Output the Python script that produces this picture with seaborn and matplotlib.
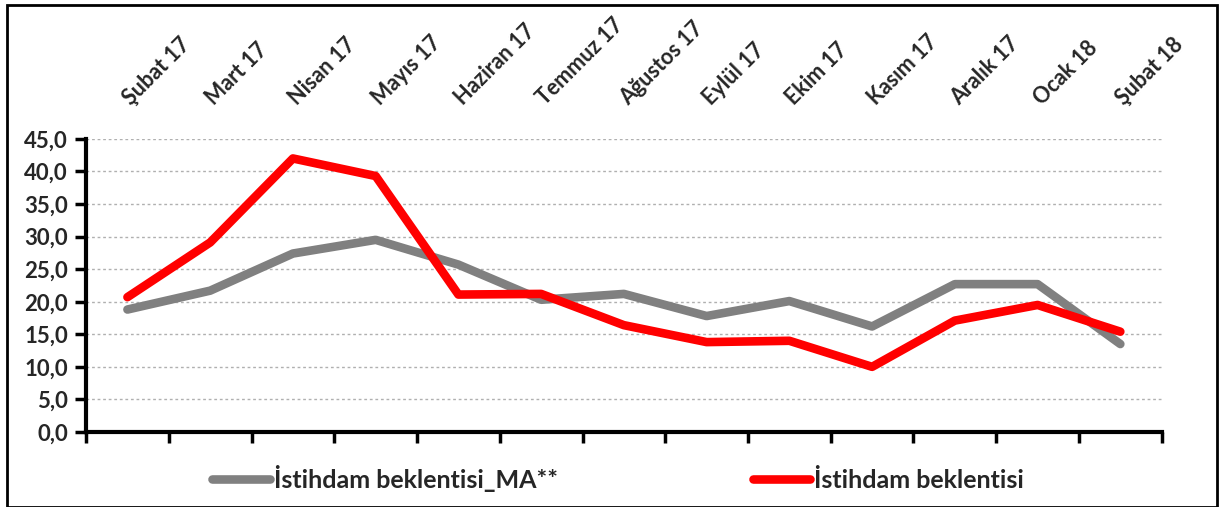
import pandas as pd
import numpy as np
import seaborn as sns
import matplotlib.pyplot as plt
from matplotlib.patches import Rectangle
from matplotlib.transforms import ScaledTranslation

# Data
months = ['Şubat 17', 'Mart 17', 'Nisan 17', 'Mayıs 17', 'Haziran 17', 'Temmuz 17',
          'Ağustos 17', 'Eylül 17', 'Ekim 17', 'Kasım 17', 'Aralık 17', 'Ocak 18', 'Şubat 18']
ma_values = [18.8, 21.7, 27.4, 29.5, 25.7, 20.3, 21.2, 17.8, 20.1, 16.2, 22.7, 22.7, 13.5]
raw_values = [20.7, 29.1, 42.0, 39.3, 21.1, 21.2, 16.4, 13.8, 14.0, 10.0, 17.1, 19.5, 15.4]
series_names = ['İstihdam beklentisi_MA**', 'İstihdam beklentisi']
y_ticks = [0, 5, 10, 15, 20, 25, 30, 35, 40, 45]

df = pd.DataFrame({
    'idx': list(range(len(months))) * 2,
    'value': ma_values + raw_values,
    'series': [series_names[0]] * len(months) + [series_names[1]] * len(months),
})

sns.set_style('white')
plt.rcParams['font.family'] = ['Lato', 'DejaVu Sans']
plt.rcParams['font.weight'] = 'bold'

fig = plt.figure(figsize=(12.19, 5.07), dpi=100)
ax = fig.add_axes([0.0706, 0.148, 0.8824, 0.578])

sns.lineplot(data=df, x='idx', y='value', hue='series', hue_order=series_names,
             palette=['#808080', '#ff0000'], linewidth=6.2, solid_capstyle='round',
             ax=ax, legend=True)

ax.set_xlim(-0.5, len(months) - 0.5)
ax.set_ylim(0, 45)
ax.set_xlabel('')
ax.set_ylabel('')

# y axis
ax.set_yticks(y_ticks)
ax.set_yticklabels([f'{v:.1f}'.replace('.', ',') for v in y_ticks], fontsize=16, fontweight='bold')
ax.yaxis.grid(True, linestyle=(0, (2, 2)), color='#b0b0b0', linewidth=1)
ax.tick_params(axis='y', left=True, length=8, width=2.5, color='black', pad=5)

# month labels on top, boundary ticks at bottom
ax.set_xticks(range(len(months)))
ax.set_xticklabels(months, rotation=45, rotation_mode='anchor', fontsize=15.5,
                   fontweight='bold', ha='left', va='bottom')
ax.tick_params(axis='x', which='major', bottom=False, labelbottom=False, top=False,
               labeltop=True, pad=20)
ax.set_xticks(np.arange(-0.5, len(months), 1.0), minor=True)
ax.tick_params(axis='x', which='minor', bottom=True, length=8, width=2.5, color='black',
               direction='out')

# nudge the rotated month labels a little right and down
shift = ScaledTranslation(7 / 100, -3 / 100, fig.dpi_scale_trans)
for lab in ax.get_xticklabels():
    lab.set_transform(lab.get_transform() + shift)

for side in ['top', 'right']:
    ax.spines[side].set_visible(False)
for side in ['left', 'bottom']:
    ax.spines[side].set_color('black')
    ax.spines[side].set_linewidth(3)

# legend below the plot
handles, labels = ax.get_legend_handles_labels()
ax.get_legend().remove()
leg = fig.legend(handles, labels, loc='center', bbox_to_anchor=(0.507, 0.057), ncol=2,
                 frameon=False, fontsize=18, handlelength=2.3, handletextpad=0.16,
                 columnspacing=7.8)
for t in leg.get_texts():
    t.set_fontweight('bold')

# outer frame
fig.patches.append(Rectangle((0.006, 0.0), 0.992, 0.99, transform=fig.transFigure,
                             fill=False, edgecolor='black', linewidth=2))

fig.savefig('out.png', dpi=100)
